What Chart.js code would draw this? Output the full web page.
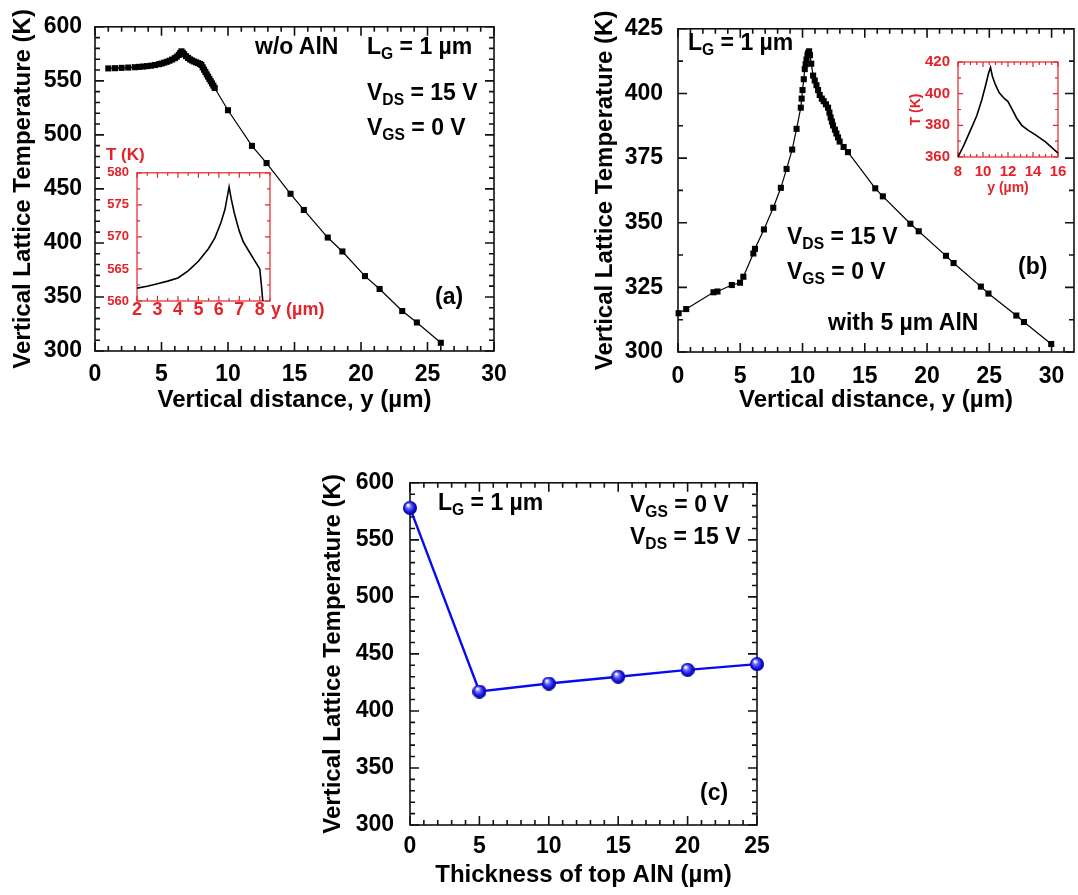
<!DOCTYPE html>
<html>
<head>
<meta charset="utf-8">
<title>Vertical lattice temperature</title>
<script src="https://cdn.jsdelivr.net/npm/chart.js@4.4.1/dist/chart.umd.min.js"></script>
<style>
  html, body { margin: 0; padding: 0; background: #fff; overflow: hidden; }
  #page { position: relative; width: 1078px; height: 895px; overflow: hidden; }
  canvas { position: absolute; }
  .note { position: absolute; font: bold 23px "Liberation Sans", Arial, sans-serif; line-height: 1; white-space: nowrap; color: #000; }
  .note sub { font-size: 0.68em; vertical-align: -0.32em; line-height: 0; }
  .red { color: #e3232a; }
</style>
</head>
<body>
<div id="page">
  <canvas id="chartA" width="530" height="420" style="left:0px;top:0px"></canvas>
  <canvas id="chartB" width="505" height="420" style="left:585px;top:0px"></canvas>
  <canvas id="chartC" width="485" height="442" style="left:312px;top:453px"></canvas>
  <canvas id="insetA" width="180" height="166" style="left:100px;top:157px"></canvas>
  <canvas id="insetB" width="175" height="155" style="left:900px;top:45px"></canvas>

  <!-- panel (a) notes -->
  <div class="note" style="left:255px;top:35px">w/o AlN</div>
  <div class="note" style="left:367px;top:35px">L<sub>G</sub> = 1 µm</div>
  <div class="note" style="left:367px;top:81px">V<sub>DS</sub> = 15 V</div>
  <div class="note" style="left:367px;top:116px">V<sub>GS</sub> = 0 V</div>
  <div class="note" style="left:435px;top:285px">(a)</div>
  <div class="note red" style="left:106px;top:146px;font-size:17px">T (K)</div>
  <div class="note red" style="left:271px;top:300px;font-size:18px">y (µm)</div>

  <!-- panel (b) notes -->
  <div class="note" style="left:688px;top:31px">L<sub>G</sub> = 1 µm</div>
  <div class="note" style="left:787px;top:225px">V<sub>DS</sub> = 15 V</div>
  <div class="note" style="left:787px;top:260px">V<sub>GS</sub> = 0 V</div>
  <div class="note" style="left:1018px;top:255px">(b)</div>
  <div class="note" style="left:828px;top:311px">with 5 µm AlN</div>

  <!-- panel (c) notes -->
  <div class="note" style="left:438px;top:491px">L<sub>G</sub> = 1 µm</div>
  <div class="note" style="left:630px;top:493px">V<sub>GS</sub> = 0 V</div>
  <div class="note" style="left:630px;top:525px">V<sub>DS</sub> = 15 V</div>
  <div class="note" style="left:700px;top:781px">(c)</div>
</div>

<script>
// --------------------- Data ---------------------
// (a) without AlN: vertical distance (um) vs lattice temperature (K)
const distA = [1.0, 1.5, 2.0, 2.5, 3.0, 3.3, 3.6, 3.9, 4.2, 4.5, 4.8, 5.0, 5.2, 5.4, 5.6, 5.8, 6.0, 6.15, 6.3, 6.4, 6.5, 6.6, 6.7, 6.85, 7.0, 7.15, 7.3, 7.45, 7.6, 7.75, 7.9, 8.0, 8.1, 8.2, 8.3, 8.4, 8.5, 8.6, 8.7, 8.8, 8.9, 9.0, 10.0, 11.8, 12.9, 14.7, 15.7, 17.5, 18.6, 20.3, 21.4, 23.1, 24.2, 26.0];
const tempA = [561.5, 561.7, 562.0, 562.3, 562.6, 562.9, 563.2, 563.6, 564.0, 564.6, 565.4, 566.0, 566.8, 567.6, 568.6, 569.7, 571.0, 572.4, 574.0, 575.6, 577.3, 576.0, 574.6, 572.8, 571.2, 569.8, 568.8, 567.9, 567.1, 566.4, 565.6, 564.6, 562.5, 560.3, 558.2, 556.0, 553.9, 551.8, 549.7, 547.6, 545.5, 543.4, 522.8, 489.8, 473.9, 445.5, 430.5, 405.0, 392.1, 369.3, 357.4, 337.0, 326.4, 307.6];

// inset of (a)
const distInsetA = [2.0, 2.5, 3.0, 3.5, 4.0, 4.5, 5.0, 5.5, 5.8, 6.1, 6.3, 6.5, 6.6, 6.75, 6.9, 7.0, 7.2, 7.5, 7.75, 8.0, 8.08, 8.2];
const tempInsetA = [562.0, 562.3, 562.7, 563.1, 563.6, 564.7, 566.2, 568.2, 569.8, 572.2, 574.3, 577.8, 576.0, 573.8, 572.0, 570.9, 569.2, 567.6, 566.3, 565.0, 562.5, 558.0];

// (b) with 5 um AlN
const distB = [0.05, 0.66, 2.85, 3.17, 4.32, 4.98, 5.25, 6.05, 6.18, 6.9, 7.65, 8.26, 8.72, 9.17, 9.52, 9.86, 9.93, 10.0, 10.1, 10.18, 10.25, 10.32, 10.4, 10.45, 10.53, 10.6, 10.7, 10.85, 10.98, 11.12, 11.25, 11.38, 11.55, 11.7, 11.88, 12.05, 12.16, 12.26, 12.36, 12.45, 12.6, 12.72, 12.85, 12.98, 13.3, 13.65, 15.84, 16.45, 18.66, 19.33, 21.52, 22.13, 24.32, 24.93, 27.17, 27.78, 29.97];
const tempB = [315.0, 316.6, 323.1, 323.4, 325.9, 326.8, 329.1, 338.1, 339.9, 347.4, 355.8, 363.5, 370.8, 378.3, 386.3, 394.5, 398.0, 401.3, 405.5, 409.4, 411.3, 413.1, 414.8, 415.6, 416.3, 414.8, 411.5, 406.9, 405.0, 403.2, 401.3, 399.4, 398.0, 397.0, 395.8, 394.5, 392.6, 390.7, 389.1, 387.6, 386.0, 384.5, 383.0, 381.4, 379.3, 377.3, 363.3, 360.2, 349.6, 346.7, 337.2, 334.4, 325.3, 322.6, 314.1, 311.6, 303.1];

// inset of (b)
const distInsetB = [8.0, 8.5, 9.0, 9.5, 9.9, 10.2, 10.45, 10.6, 10.75, 11.0, 11.3, 11.7, 12.0, 12.3, 12.7, 13.1, 13.6, 14.2, 15.0, 16.0];
const tempInsetB = [360.0, 368.0, 377.0, 386.0, 396.0, 405.0, 413.0, 416.5, 411.0, 405.5, 400.5, 397.0, 395.0, 390.5, 384.5, 380.0, 377.0, 374.0, 369.5, 362.5];

// (c) peak temperature vs top AlN thickness
const thickness = [0, 5, 10, 15, 20, 25];
const peakTemp = [578, 417, 424, 430, 436, 441];

// tick labels
const ticksAx = [0, 5, 10, 15, 20, 25, 30];
const ticksAy = [300, 350, 400, 450, 500, 550, 600];
const ticksBx = [0, 5, 10, 15, 20, 25, 30];
const ticksBy = [300, 325, 350, 375, 400, 425];
const ticksCx = [0, 5, 10, 15, 20, 25];
const ticksCy = [300, 350, 400, 450, 500, 550, 600];
const ticksInsetAx = [2, 3, 4, 5, 6, 7, 8];
const ticksInsetAy = [560, 565, 570, 575, 580];
const ticksInsetBx = [8, 10, 12, 14, 16];
const ticksInsetBy = [360, 380, 400, 420];


// --------------------- Helpers ---------------------
const RED = "#e3232a";
const FAMILY = '"Liberation Sans", Arial, sans-serif';
Chart.defaults.font.family = FAMILY;

const toPoints = (xs, ys) => xs.map((v, i) => ({ x: v, y: ys[i] }));

const isMajor = (v, step) => Math.abs(v / step - Math.round(v / step)) < 1e-6;

// frame box with inward ticks on all four sides
const frameTicks = {
  id: "frameTicks",
  beforeDatasetsDraw(chart, args, o) {
    const { ctx, chartArea: a, scales: { x, y } } = chart;
    ctx.save();
    ctx.strokeStyle = o.color;
    ctx.lineWidth = o.width;
    ctx.strokeRect(a.left, a.top, a.right - a.left, a.bottom - a.top);
    ctx.beginPath();
    const nx = Math.floor((x.max - x.min) / o.xMinor + 1e-6);
    for (let i = 0; i <= nx; i++) {
      const v = x.min + i * o.xMinor;
      const px = x.getPixelForValue(v);
      const len = isMajor(v, o.xMajor) ? o.major : o.minor;
      ctx.moveTo(px, a.bottom); ctx.lineTo(px, a.bottom - len);
      ctx.moveTo(px, a.top); ctx.lineTo(px, a.top + len);
    }
    const ny = Math.floor((y.max - y.min) / o.yMinor + 1e-6);
    for (let i = 0; i <= ny; i++) {
      const v = y.min + i * o.yMinor;
      const py = y.getPixelForValue(v);
      const len = isMajor(v, o.yMajor) ? o.major : o.minor;
      ctx.moveTo(a.left, py); ctx.lineTo(a.left + len, py);
      ctx.moveTo(a.right, py); ctx.lineTo(a.right - len, py);
    }
    ctx.stroke();
    ctx.restore();
  }
};

function axis({ min, max, labels, size, pad, color = "#000", fontSize = 23, lineHeight = 1.2, title }) {
  return {
    type: "linear",
    min, max,
    afterBuildTicks: s => { s.ticks = labels.map(v => ({ value: v })); },
    afterFit: s => { if (s.isHorizontal()) s.height = size; else s.width = size; },
    grid: { display: false, drawTicks: false },
    border: { display: false },
    ticks: { color, padding: pad, autoSkip: false, maxRotation: 0, font: { size: fontSize, weight: "bold", lineHeight } },
    title: title
      ? { display: true, text: title.text, color, padding: title.padding, font: { size: title.size || 24, weight: "bold" } }
      : { display: false }
  };
}

function makeChart(id, datasets, x, y, pad, frame) {
  return new Chart(document.getElementById(id), {
    type: "scatter",
    data: { datasets },
    options: {
      responsive: false,
      animation: false,
      events: [],
      layout: { padding: { left: 0, bottom: 0, top: pad.top, right: pad.right } },
      plugins: { legend: { display: false }, tooltip: { enabled: false }, frameTicks: frame },
      scales: { x, y }
    },
    plugins: [frameTicks]
  });
}

// shaded blue ball used as the marker in (c)
function makeBall(r) {
  const c = document.createElement("canvas");
  c.width = c.height = 2 * r;
  const g = c.getContext("2d");
  const grad = g.createRadialGradient(r * 0.7, r * 0.6, r * 0.1, r, r, r);
  grad.addColorStop(0, "#ffffff");
  grad.addColorStop(0.3, "#6a6aff");
  grad.addColorStop(0.7, "#1414e6");
  grad.addColorStop(1, "#00007a");
  g.fillStyle = grad;
  g.beginPath();
  g.arc(r, r, r, 0, Math.PI * 2);
  g.fill();
  return c;
}

const mainFrame = { color: "#111", width: 1.6, major: 9, minor: 5 };
const insetFrame = { color: RED, width: 1.2, major: 5, minor: 3 };

const squareLine = (xs, ys) => ({
  data: toPoints(xs, ys),
  showLine: true,
  borderColor: "#000",
  borderWidth: 1.2,
  pointStyle: "rect",
  pointRadius: 4.3,
  pointBackgroundColor: "#000",
  pointBorderWidth: 0,
  clip: false
});

const plainLine = (xs, ys) => ({
  data: toPoints(xs, ys),
  showLine: true,
  borderColor: "#000",
  borderWidth: 1.6,
  pointRadius: 0
});


// --------------------- Charts ---------------------
document.addEventListener("DOMContentLoaded", () => {
  // (a)
  makeChart("chartA",
    [squareLine(distA, tempA)],
    axis({ min: 0, max: 30, labels: ticksAx, size: 69, pad: 10,
      title: { text: "Vertical distance, y (µm)", padding: { top: 0, bottom: 5.6 } } }),
    axis({ min: 300, max: 600, labels: ticksAy, size: 95, pad: 13,
      title: { text: "Vertical Lattice Temperature (K)", padding: { top: 8.6, bottom: 0 } } }),
    { top: 17, right: 36 },
    { ...mainFrame, xMajor: 5, xMinor: 1, yMajor: 50, yMinor: 10 });

  // (b)
  makeChart("chartB",
    [squareLine(distB, tempB)],
    axis({ min: 0, max: 31.8, labels: ticksBx, size: 68, pad: 11,
      title: { text: "Vertical distance, y (µm)", padding: { top: 0, bottom: 5.6 } } }),
    axis({ min: 300, max: 425, labels: ticksBy, size: 93, pad: 15,
      title: { text: "Vertical Lattice Temperature (K)", padding: { top: 5.6, bottom: 0 } } }),
    { top: 18, right: 16 },
    { ...mainFrame, xMajor: 5, xMinor: 1, yMajor: 25, yMinor: 12.5 });

  // (c)
  makeChart("chartC",
    [{
      data: toPoints(thickness, peakTemp),
      showLine: true,
      borderColor: "#0a0af0",
      borderWidth: 2.4,
      pointStyle: makeBall(7),
      pointRadius: 7,
      clip: false
    }],
    axis({ min: 0, max: 25, labels: ticksCx, size: 70, pad: 8,
      title: { text: "Thickness of top AlN (µm)", padding: { top: 0, bottom: 5.6 } } }),
    axis({ min: 300, max: 600, labels: ticksCy, size: 98, pad: 16,
      title: { text: "Vertical Lattice Temperature (K)", padding: { top: 6.6, bottom: 0 } } }),
    { top: 20, right: 40 },
    { ...mainFrame, xMajor: 5, xMinor: 1, yMajor: 50, yMinor: 10 });

  // inset (a)
  makeChart("insetA",
    [plainLine(distInsetA, tempInsetA)],
    axis({ min: 2, max: 8.5, labels: ticksInsetAx, size: 22, pad: 0, color: RED, fontSize: 18, lineHeight: 1 }),
    axis({ min: 560, max: 580, labels: ticksInsetAy, size: 37, pad: 8, color: RED, fontSize: 13 }),
    { top: 12, right: 10 },
    { ...insetFrame, xMajor: 1, xMinor: 0.5, yMajor: 5, yMinor: 2.5 });

  // inset (b)
  makeChart("insetB",
    [plainLine(distInsetB, tempInsetB)],
    axis({ min: 8, max: 16, labels: ticksInsetBx, size: 43, pad: 5.7, color: RED, fontSize: 15,
      title: { text: "y (µm)", size: 14, padding: { top: 0, bottom: 3.9 } } }),
    axis({ min: 360, max: 420, labels: ticksInsetBy, size: 58, pad: 8, color: RED, fontSize: 15,
      title: { text: "T (K)", size: 14, padding: { top: 7.6, bottom: 0 } } }),
    { top: 13.5, right: 17 },
    { ...insetFrame, xMajor: 2, xMinor: 0.5, yMajor: 20, yMinor: 10 });
});
</script>
</body>
</html>
